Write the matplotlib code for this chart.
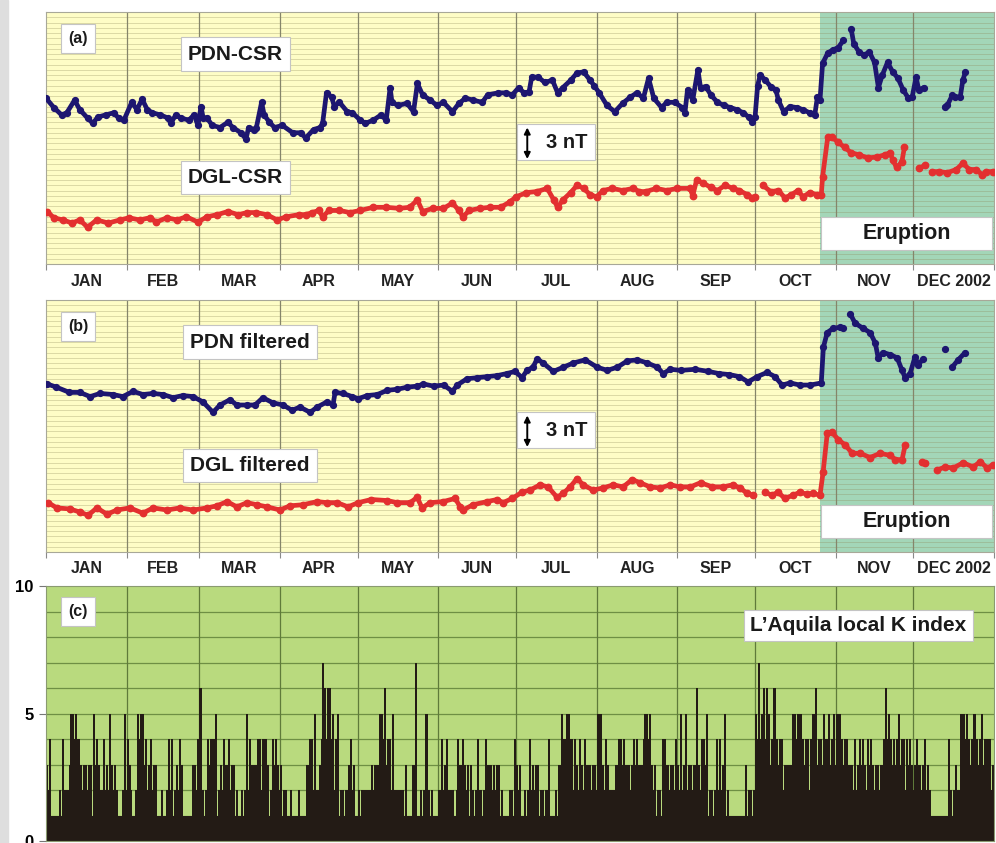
import numpy as np
import matplotlib.pyplot as plt
from matplotlib.patches import Rectangle

plt.rcParams['font.family'] = ['Liberation Sans', 'DejaVu Sans']

# month boundaries (day of year 2002) and labels
month_starts = [0, 31, 59, 90, 120, 151, 181, 212, 243, 273, 304, 334, 365]
month_names = ['JAN', 'FEB', 'MAR', 'APR', 'MAY', 'JUN', 'JUL', 'AUG', 'SEP', 'OCT', 'NOV', 'DEC 2002']
eruption_day = 298

# (day of year, nT) - None = no data
pdn_csr = [(0, 15.8), (3, 14.9), (6, 14.2), (8, 14.4), (11, 15.6), (13, 14.7), (16, 13.9), (18, 13.4),
           (20, 14.0), (23, 14.2), (26, 14.4), (28, 13.9), (30, 13.7), (33, 15.4), (35, 14.7), (37, 15.7),
           (39, 14.7), (41, 14.4), (44, 14.2), (47, 13.9), (48, 13.4), (50, 14.2), (52, 13.9), (55, 13.7),
           (57, 14.2), (58.5, 13.2), (59.7, 15.0), (60.5, 13.9), (62, 13.9), (64, 13.2), (67, 13.0),
           (70, 13.5), (72, 13.0), (75, 12.5), (77, 11.9), (78, 13.0), (80, 12.8), (81, 13.0), (83, 15.4),
           (84, 14.2), (86, 13.5), (88, 13.0), (91, 13.2), (95, 12.5), (98, 12.5), (100, 12.0), (103, 12.8),
           (105.5, 13.0), (106.5, 13.4), (108, 16.3), (110, 15.9), (111, 15.0), (113, 15.4), (116, 14.5),
           (118, 14.4), (121, 13.7), (123, 13.4), (126, 13.7), (129, 14.2), (131, 13.7), (132.5, 16.8),
           (133.2, 15.4), (135.5, 15.1), (139, 15.3), (141.5, 14.5), (143, 17.2), (145, 16.1), (148, 15.6),
           (150.5, 15.1), (153, 15.4), (156.5, 14.5), (159, 15.3), (161.5, 15.8), (164.5, 15.6), (168, 15.4),
           (170, 16.1), (174, 16.3), (177, 16.3), (179.5, 16.1), (182, 16.8), (184, 16.3), (186, 16.4),
           (187, 17.8), (189.5, 17.8), (192, 17.3), (195, 17.5), (197, 16.3), (199, 16.8), (202, 17.5),
           (204.5, 18.2), (207, 18.3), (209.5, 17.5), (211, 17.0), (213, 16.3), (216, 15.1), (219, 14.5),
           (222, 15.3), (225, 15.9), (227.5, 16.3), (230, 15.8), (232, 17.7), (234, 15.8), (237, 14.9),
           (239, 15.4), (242, 15.4), (245, 14.9), (246, 14.4), (247, 16.6), (249, 15.6), (251, 18.5),
           (252, 16.8), (254, 16.9), (256, 16.1), (258.5, 15.4), (261, 15.1), (263.5, 14.9), (266, 14.7),
           (268.5, 14.4), (270.5, 14.0), (272, 13.5), (273, 14.0), (274, 17.0), (275, 18.0), (277, 17.5),
           (279, 16.9), (281, 16.6), (282, 15.6), (284, 14.5), (286.5, 15.0), (289, 14.9), (291.5, 14.7),
           (294, 14.4), (296, 14.2), (297, 15.9), (298, 15.6), (299, 19.1), (301, 20.1), (303, 20.4),
           (305, 20.6), (307, 21.3), (308.5, None), (310, 22.4), (311, 21.0), (313, 20.2), (315, 19.9),
           (317, 20.2), (319, 19.2), (320.5, 16.8), (322, 18.0), (324, 19.2), (326, 18.3), (328, 17.7),
           (330, 16.6), (332, 15.8), (333.5, 15.9), (335, 17.8), (336, 16.6), (338, 16.8), (342, None),
           (346, 15.0), (347, 15.1), (349, 16.1), (350, 15.9), (352, 15.9), (353, 17.5), (354, 18.3)]

dgl_csr = [(0.5, 5.0), (3, 4.4), (6.5, 4.2), (10, 3.9), (13, 4.2), (16, 3.5), (19.5, 4.2), (24, 3.9),
           (28.5, 4.2), (32, 4.4), (36, 4.2), (40, 4.4), (42.5, 4.0), (46.5, 4.4), (50.5, 4.2), (54, 4.5),
           (58.5, 4.0), (62, 4.5), (66, 4.7), (70, 5.0), (74, 4.7), (77.5, 4.9), (81, 4.9), (85, 4.7),
           (89, 4.2), (92.5, 4.5), (97.5, 4.7), (100, 4.7), (102.5, 4.9), (105, 5.1), (106.5, 4.5),
           (109, 5.1), (113, 5.1), (117, 4.9), (121, 5.1), (126, 5.4), (131, 5.4), (136, 5.3), (140, 5.4),
           (143, 6.1), (145, 5.0), (149, 5.3), (153, 5.3), (156.5, 5.8), (159, 5.1), (160.5, 4.5),
           (163, 5.1), (167, 5.3), (171, 5.4), (175, 5.4), (178.5, 5.9), (181, 6.4), (185, 6.8), (189, 6.9),
           (193, 7.2), (195.5, 6.1), (197, 5.4), (199, 6.1), (202, 6.8), (204.5, 7.5), (207, 7.2),
           (209.5, 6.6), (212, 6.4), (214.5, 7.0), (218, 7.2), (222, 7.0), (226, 7.2), (228.5, 6.9),
           (231, 6.9), (235, 7.2), (239, 7.0), (243, 7.2), (248, 7.2), (249, 6.5), (250.5, 8.0), (253, 7.7),
           (256, 7.3), (258.5, 7.0), (261.5, 7.5), (264.5, 7.2), (267, 7.0), (270, 6.6), (272, 6.3),
           (273, 6.4), (274.5, None), (276, 7.5), (279, 6.9), (282, 7.0), (284.5, 6.3), (287, 6.6),
           (289.5, 7.0), (291.5, 6.4), (294, 6.8), (297, 6.6), (298.5, 6.6), (299, 8.3), (301, 12.1),
           (302.5, 12.1), (305, 11.6), (307.5, 11.1), (310, 10.6), (313, 10.4), (316.5, 10.1), (320, 10.2),
           (323, 10.4), (325, 10.6), (326, 9.9), (327.5, 9.2), (329.5, 9.7), (330.5, 11.1), (333, None),
           (336, 9.1), (338.5, 9.4), (340, None), (341, 8.8), (344, 8.8), (347, 8.7), (350.5, 9.0),
           (353, 9.6), (355.5, 9.0), (358, 9.0), (360.5, 8.5), (362, 8.8), (364.5, 8.8)]

pdn_filtered = [(0.5, 16.0), (4, 15.7), (9, 15.2), (13, 15.2), (17, 14.8), (20.8, 15.1), (25.8, 15.0),
                (29.6, 14.8), (33.5, 15.3), (37.3, 15.0), (41.2, 15.1), (45, 15.0), (48.9, 14.7),
                (52.7, 14.9), (56.6, 14.8), (60.4, 14.3), (64.3, 13.3), (67, 14.0), (70.8, 14.5),
                (73.5, 14.0), (77.4, 14.0), (80.5, 14.0), (83.5, 14.7), (87.4, 14.2), (91.3, 14.0),
                (94.7, 13.5), (97.8, 13.8), (101.7, 13.3), (104.4, 13.8), (108.2, 14.3), (110.5, 14.0),
                (111.3, 15.2), (114.4, 15.1), (117.9, 14.8), (120.2, 14.6), (123.7, 14.9), (127.6, 15.0),
                (131.4, 15.4), (135.3, 15.5), (139.1, 15.7), (143, 15.8), (145.3, 16.0), (149.2, 15.8),
                (153.1, 15.9), (156.5, 15.3), (158.3, 15.9), (162.1, 16.5), (166, 16.6), (169.8, 16.7),
                (173.7, 16.8), (177.5, 17.0), (180.6, 17.2), (183.3, 16.6), (185.2, 17.3), (187.5, 17.6),
                (189.1, 18.4), (191.4, 18.0), (195.3, 17.2), (199.2, 17.6), (203, 18.0), (207.6, 18.3),
                (212.2, 17.6), (216.1, 17.3), (220, 17.6), (223.8, 18.2), (227.7, 18.3), (231.5, 18.0),
                (235.4, 17.6), (237.6, 17.0), (240.4, 17.4), (244.5, 17.3), (250, 17.4), (255, 17.2),
                (259, 17.0), (263, 16.9), (267, 16.7), (270.3, 16.2), (273.8, 16.7), (277.6, 17.1),
                (280.7, 16.7), (283.4, 15.9), (286.5, 16.1), (290.3, 15.9), (294.2, 15.9), (298.5, 16.1),
                (299.3, 19.5), (300.8, 20.9), (303.1, 21.3), (305.8, 21.4), (307, 21.3), (308.5, None),
                (309.6, 22.7), (311.5, 21.8), (314.6, 21.3), (317.3, 20.9), (319.3, 19.9), (320.4, 18.5),
                (322.3, 19.0), (325, 18.8), (327.7, 18.5), (329.6, 17.3), (330.8, 16.6), (332.7, 17.0),
                (334.6, 18.6), (335.8, 17.8), (337.7, 18.4), (341, None), (346.2, 19.3), (347.5, None),
                (348.9, 17.6), (351.2, 18.3), (353.9, 19.0)]

dgl_filtered = [(0.8, 4.7), (4.2, 4.2), (9.2, 4.1), (13.1, 3.8), (16.2, 3.5), (19.6, 4.2), (23.5, 3.6),
                (27.3, 4.0), (32.3, 4.2), (37.3, 3.7), (41.2, 4.2), (46.6, 4.0), (51.6, 4.2), (56.6, 4.0),
                (62, 4.2), (65.8, 4.4), (69.7, 4.8), (73.5, 4.3), (77.4, 4.7), (81.2, 4.5), (85.1, 4.3),
                (90.1, 4.0), (93.9, 4.4), (98.9, 4.5), (104.4, 4.8), (108.2, 4.7), (112.1, 4.7),
                (116.3, 4.3), (120.2, 4.7), (125.3, 5.0), (131.4, 4.9), (135.2, 4.7), (140.2, 4.7),
                (142.9, 5.2), (144.8, 4.2), (147.9, 4.7), (152.9, 4.8), (157.5, 5.1), (159.5, 4.3),
                (160.6, 4.0), (164.4, 4.5), (169.8, 4.8), (173.7, 5.0), (176, 4.7), (179.5, 5.1),
                (183.3, 5.7), (186.4, 5.9), (190.2, 6.4), (193.3, 6.2), (196.8, 5.2), (199.2, 5.6),
                (201.8, 6.2), (204.5, 7.0), (206.8, 6.4), (210.6, 5.9), (214.5, 6.1), (218.4, 6.4),
                (222.2, 6.2), (225.7, 6.9), (228.7, 6.6), (232.6, 6.2), (236.5, 6.1), (240.4, 6.4),
                (244, 6.2), (248.1, 6.2), (252, 6.6), (256.6, 6.2), (260.6, 6.2), (264.5, 6.4), (267.2, 6.1),
                (269.9, 5.6), (272.2, 5.4), (274.5, None), (276.8, 5.7), (279.5, 5.4), (281.8, 5.7),
                (284.5, 5.1), (287.6, 5.4), (290.3, 5.7), (293, 5.5), (295.3, 5.6), (298, 5.4), (299.2, 7.6),
                (300.8, 11.3), (302.7, 11.4), (305, 10.7), (307.7, 10.2), (310.4, 9.4), (313.5, 9.4),
                (317.3, 9.0), (321.2, 9.4), (325, 9.2), (327, 8.8), (329.6, 8.8), (330.8, 10.2), (334, None),
                (337.3, 8.6), (338.5, 8.5), (340.5, None), (343, 7.8), (346.2, 8.1), (349.3, 8.0),
                (353.1, 8.5), (357, 8.1), (359.7, 8.6), (362.4, 8.0), (364.7, 8.3)]

# L'Aquila local K index, one string of daily digits per month
k_max = ['3411124225554333335432435332125',
         '4312555434331212442343111334',
         '6224445234343321225433444432443',
         '322121121134452376665452223431',
         '2222233355644522223113712252211',
         '243422143433322422433333211224',
         '3312243332224112354554434343333',
         '5534322344433344335553322443334',
         '353533363445222443521111113222',
         '5756654644433355554444564454545',
         '554443343443443333465444544443',
         '3433432111111422325554454454443']
k_base = ['2211112213433222212321222211112',
          '3211443322211111221221111122',
          '2213442122222111112322323321322',
          '211111111123222244543231112321',
          '1122222234333221111112111221111',
          '132211123322111211322221111112',
          '2211122211112111234443222222222',
          '3322211233222232224432211232222',
          '232222232333111232211111111111',
          '4444433333222234333322343333333',
          '343332222332332222344333332332',
          '2322221111111111213443333333332']

# colours
yellow = '#fefdc6'
teal = '#a3d6b8'
green_bg = '#b9da7e'
navy = '#1d1670'
red = '#e33030'
bar_col = '#231b15'


def to_xy(pairs):
    x = np.array([p[0] for p in pairs], dtype=float)
    y = np.array([np.nan if p[1] is None else p[1] for p in pairs], dtype=float)
    return x, y


def text_box(ax, x, y, s, size=15, pad=0.35, weight='bold'):
    ax.text(x, y, s, ha='center', va='center', fontsize=size, fontweight=weight, color='#1a1a1a',
            zorder=6, bbox=dict(boxstyle=f'square,pad={pad}', fc='white', ec='#c4c4c4', lw=0.8))


def draw_mag_panel(ax, pdn, dgl, letter, pdn_label, dgl_label, label_x, label_y):
    ax.set_xlim(0, 365)
    ax.set_ylim(0, 24)
    ax.set_facecolor(yellow)
    ax.axvspan(eruption_day, 365, color=teal, zorder=0, lw=0)

    # grid
    for y in np.arange(0.5, 24, 0.5):
        ax.axhline(y, color='#8c8658', alpha=0.35, lw=0.6, zorder=1)
    for m in month_starts[1:-1]:
        ax.axvline(m, color='#85856a', lw=0.9, zorder=1)

    # series: thick line with dense markers
    for pairs, col, ms in [(pdn, navy, 4.2), (dgl, red, 4.6)]:
        x, y = to_xy(pairs)
        ax.plot(x, y, color=col, lw=3.4, zorder=3, solid_capstyle='round', solid_joinstyle='round')
        ax.plot(x, y, ls='none', marker='o', ms=ms, mfc=col, mec=col, zorder=4)

    # labels
    text_box(ax, 12.3, 21.45, letter, size=11.5, pad=0.45)
    text_box(ax, label_x, 20.0, pdn_label)
    text_box(ax, label_x, 8.25, dgl_label)

    # 3 nT scale
    ax.add_patch(Rectangle((181.4, 9.9), 30, 3.4, fc='white', ec='#c4c4c4', lw=0.8, zorder=5))
    ax.annotate('', xy=(185.3, 13.0), xytext=(185.3, 10.0), zorder=6,
                arrowprops=dict(arrowstyle='<|-|>', color='black', lw=1.4, mutation_scale=9,
                                shrinkA=0, shrinkB=0))
    ax.text(200.5, 11.6, '3 nT', ha='center', va='center', fontsize=14.5, fontweight='bold',
            color='#1a1a1a', zorder=6)

    # eruption box
    ax.add_patch(Rectangle((298.5, 1.35), 365 - 299.2, 3.15, fc='white', ec='#c4c4c4', lw=0.8, zorder=5))
    ax.text(331.5, 2.92, 'Eruption', ha='center', va='center', fontsize=15.5, fontweight='bold',
            color='#1a1a1a', zorder=6)

    # month labels under the panel
    for i, name in enumerate(month_names):
        xm = (month_starts[i] + month_starts[i + 1]) / 2
        ax.text(xm, label_y, name, ha='center', va='center', fontsize=11.5, fontweight='bold',
                color='#222222', clip_on=False)

    ax.set_xticks(month_starts)
    ax.set_xticklabels([])
    ax.set_yticks([])
    ax.tick_params(axis='x', length=4, color='#8a8a8a', width=0.8)
    for sp in ax.spines.values():
        sp.set_color('#a8a898')
        sp.set_linewidth(0.8)


fig = plt.figure(figsize=(9.96, 8.43), dpi=100)
fig.patches.append(Rectangle((0, 0), 8 / 996, 1, transform=fig.transFigure, color='#dedede', zorder=0))

W, H = 996, 843
ax_a = fig.add_axes([46 / W, 1 - 264 / H, 948 / W, 252 / H])
ax_b = fig.add_axes([46 / W, 1 - 552 / H, 948 / W, 252 / H])
ax_c = fig.add_axes([46 / W, 1 - 841 / H, 948 / W, 255 / H])

draw_mag_panel(ax_a, pdn_csr, dgl_csr, '(a)', 'PDN-CSR', 'DGL-CSR', 73, -1.7)
draw_mag_panel(ax_b, pdn_filtered, dgl_filtered, '(b)', 'PDN filtered', 'DGL filtered', 78.5, -1.55)

# panel (c): K index
kmax = np.array([int(c) for c in ''.join(k_max)])
kbase = np.array([int(c) for c in ''.join(k_base)])
days = np.arange(len(kmax))

ax_c.set_xlim(0, 365)
ax_c.set_ylim(0, 10)
ax_c.set_facecolor(green_bg)
for y in range(1, 10):
    ax_c.axhline(y, color='#6e8f44', lw=0.9, zorder=1)
for m in month_starts[1:-1]:
    ax_c.axvline(m, color='#5f7a3a', lw=0.9, zorder=1)
ax_c.bar(days, kbase, width=1.0, align='edge', color=bar_col, lw=0, zorder=2)
ax_c.bar(days + 0.1, kmax, width=0.8, align='edge', color=bar_col, lw=0, zorder=2)

text_box(ax_c, 12.3, 9.0, '(c)', size=11.5, pad=0.45)
text_box(ax_c, 312.7, 8.45, 'L\u2019Aquila local K index', size=15, pad=0.3)

ax_c.set_xticks([])
ax_c.set_yticks([0, 5, 10])
ax_c.set_yticklabels(['0', '5', '10'], fontsize=12, fontweight='bold')
ax_c.tick_params(axis='y', length=5, color='#777777', width=0.8, pad=4)
for sp in ax_c.spines.values():
    sp.set_color('#8a9a70')
    sp.set_linewidth(0.8)

fig.savefig('out.png', dpi=100)
